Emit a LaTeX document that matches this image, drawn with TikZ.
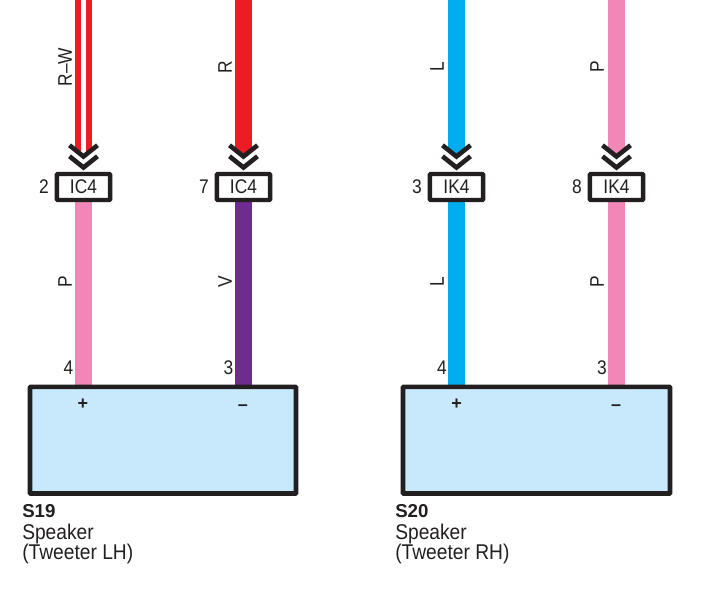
\documentclass[tikz,border=0pt]{standalone}
\usepackage{fontspec}
\setmainfont{Liberation Sans}
\newfontfamily\slimfont[FakeStretch=0.88]{Liberation Sans}
\newfontfamily\capfont[FakeStretch=0.9]{Liberation Sans}
\usetikzlibrary{backgrounds}
\definecolor{ink}{HTML}{231F20}
\definecolor{wred}{HTML}{ED1C24}
\definecolor{wpink}{HTML}{F287B7}
\definecolor{wviolet}{HTML}{6E2C91}
\definecolor{wblue}{HTML}{00AEEF}
\definecolor{spk}{HTML}{C8E8FC}
\tikzset{
  wire/.style={line width=12.75pt},
  stripe/.style={line width=4.4pt,white},
  chev/.style={draw=ink,line width=3.5pt,miter limit=10},
  plug/.style={draw=ink,fill=white,line width=3.3pt,rounded corners=0.6pt,minimum width=40pt,minimum height=19.5pt,inner sep=0pt,text=ink,font=\slimfont\fontsize{14.8}{14.8}\selectfont},
  speaker/.style={draw=ink,fill=spk,line width=3.5pt,rounded corners=0.6pt,inner sep=0pt,minimum height=80pt},
  lab/.style={inner sep=0pt,text=ink,font=\slimfont\fontsize{14.8}{14.8}\selectfont},
  vlab/.style={lab,rotate=90},
  captext/.style={inner sep=0pt,anchor=base west,text=ink,font=\capfont\fontsize{16}{16}\selectfont},
  polarity/.style={inner sep=0pt,text=ink,font=\bfseries\fontsize{13.5}{13.5}\selectfont}
}
\newcommand{\upperwire}[3]{%
  \begin{scope}
    \clip (#2-10,0) -- (#2-10,148) -- (#2,158) -- (#2+10,148) -- (#2+10,0) -- cycle;
    \draw[wire,#3] (#1top) -- (#1.north);
  \end{scope}}
\newcommand{\chevrons}[2]{%
  \draw[chev] (#2-14,145.3) -- (#2,156.5) -- (#2+14,145.3);
  \draw[chev] (#2-14,156.3) -- (#2,167.5) -- (#2+14,156.3);}
\begin{document}
\begin{tikzpicture}[x=0.75pt,y=-0.75pt]
\useasboundingbox (0,0) rectangle (710,589);
% speakers
\node[speaker,minimum width=199.5pt] (s19) at (163,440.2) {};
\node[speaker,minimum width=200.25pt] (s20) at (536.5,440.2) {};
% plugs
\node[plug] (a) at (83.5,187) {IC4};
\node[plug] (b) at (243.5,187) {IC4};
\node[plug] (c) at (456.5,187) {IK4};
\node[plug] (d) at (616.5,187) {IK4};
% wire free ends
\coordinate (atop) at (83.5,0);
\coordinate (btop) at (243.5,0);
\coordinate (ctop) at (456.5,0);
\coordinate (dtop) at (616.5,0);
\coordinate (apin) at (83.5,387);
\coordinate (bpin) at (243.5,387);
\coordinate (cpin) at (456.5,387);
\coordinate (dpin) at (616.5,387);
\begin{scope}[on background layer]
  \upperwire{a}{83.5}{wred}
  \begin{scope}
    \clip (70,0) -- (70,146) -- (83.5,157) -- (97,146) -- (97,0) -- cycle;
    \draw[stripe] (atop) -- (a.north);
  \end{scope}
  \upperwire{b}{243.5}{wred}
  \upperwire{c}{456.5}{wblue}
  \upperwire{d}{616.5}{wpink}
  \draw[wire,wpink] (a.south) -- (apin);
  \draw[wire,wviolet] (b.south) -- (bpin);
  \draw[wire,wblue] (c.south) -- (cpin);
  \draw[wire,wpink] (d.south) -- (dpin);
\end{scope}
\chevrons{a}{83.5}
\chevrons{b}{243.5}
\chevrons{c}{456.5}
\chevrons{d}{616.5}
% wire colour labels
\node[vlab] (l1) at (65,67) {R–W};
\node[vlab] (l2) at (225,67) {R};
\node[vlab] (l3) at (437,67) {L};
\node[vlab] (l4) at (597,67) {P};
\node[vlab] (l5) at (65,282) {P};
\node[vlab] (l6) at (225,282) {V};
\node[vlab] (l7) at (437,282) {L};
\node[vlab] (l8) at (597,282) {P};
% pin numbers
\node[lab] (n1) at (44,186.5) {2};
\node[lab] (n2) at (204,186.5) {7};
\node[lab] (n3) at (417,186.5) {3};
\node[lab] (n4) at (577,186.5) {8};
\node[lab] (n5) at (68.5,368) {4};
\node[lab] (n6) at (228.5,368) {3};
\node[lab] (n7) at (442,368) {4};
\node[lab] (n8) at (602,368) {3};
% polarity
\node[polarity] (p1) at (83,404) {+};
\node[polarity] (p2) at (243,408) {–};
\node[polarity] (p3) at (456.5,404) {+};
\node[polarity] (p4) at (616,408) {–};
% captions
\node[captext,font=\fontsize{14}{14}\selectfont\bfseries] (c1) at (22,517) {S19};
\node[captext] (c2) at (22,539) {Speaker};
\node[captext] (c3) at (22,559) {(Tweeter LH)};
\node[captext,font=\fontsize{14}{14}\selectfont\bfseries] (c4) at (395,517) {S20};
\node[captext] (c5) at (395,539) {Speaker};
\node[captext] (c6) at (395,559) {(Tweeter RH)};
\end{tikzpicture}
\end{document}
